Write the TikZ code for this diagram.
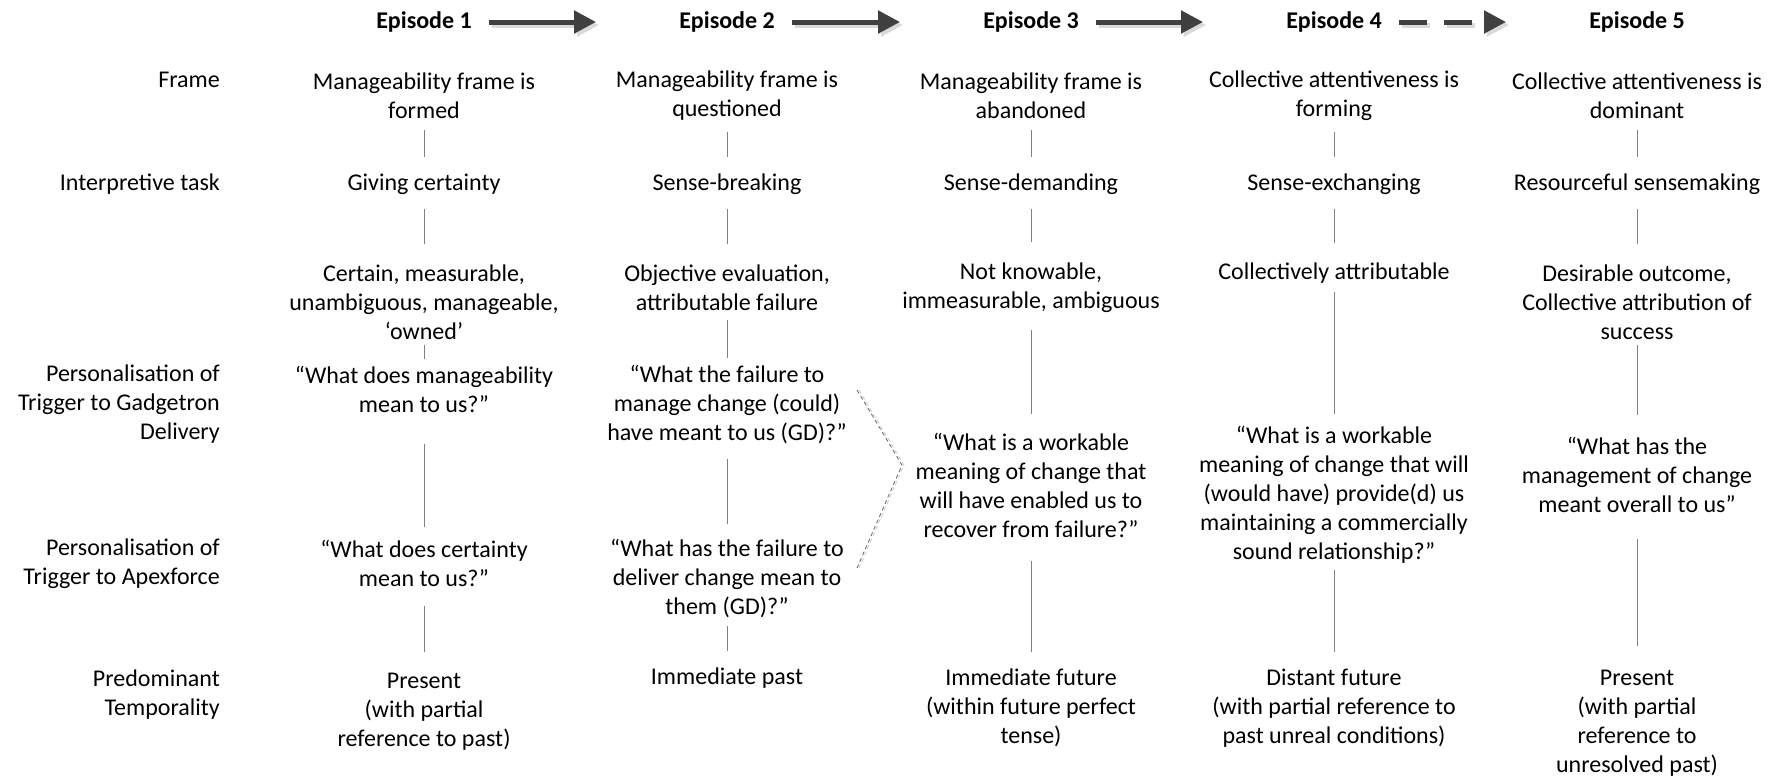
\documentclass[tikz,border=0pt]{standalone}
\usepackage{fontspec}
\setmainfont{Carlito}
\usetikzlibrary{arrows.meta, positioning}

\begin{document}
\begin{tikzpicture}[x=1pt, y=-1pt,
    cell/.style={align=center, inner sep=0pt, font=\fontsize{24}{29}\selectfont},
    rowlabel/.style={cell, align=right, anchor=east},
    episode/.style={inner sep=0pt, font=\fontsize{24}{29}\selectfont\bfseries},
    vline/.style={draw=black!50, line width=1pt},
    epiarrow/.style={draw=black!75, line width=5pt, -{Triangle[length=22pt, width=22pt]}, shorten <=17pt, shorten >=83pt},
    epishadow/.style={epiarrow, draw=black!15, transform canvas={shift={(3pt,-3pt)}}},
    bracket/.style={draw=black!60, line width=0.8pt, dash pattern=on 4pt off 3pt}
]
\useasboundingbox (0,0) rectangle (1782,780);

% Episode headers
\node[episode] (h1) at (424, 22) {Episode 1};
\node[episode] (h2) at (727, 22) {Episode 2};
\node[episode] (h3) at (1031, 22) {Episode 3};
\node[episode] (h4) at (1334, 22) {Episode 4};
\node[episode] (h5) at (1637, 22) {Episode 5};

% Row labels
\node[rowlabel] (lframe) at (220, 80) {Frame};
\node[rowlabel] (ltask) at (220, 184.5) {Interpretive task};
\node[rowlabel] (lgd) at (220, 404) {Personalisation of\\Trigger to Gadgetron\\Delivery};
\node[rowlabel] (lapex) at (220, 563.5) {Personalisation of\\Trigger to Apexforce};
\node[rowlabel] (ltemp) at (220, 694.5) {Predominant\\Temporality};

% Episode 1
\node[cell] (f1) at (424, 96) {Manageability frame is\\formed};
\node[cell] (i1) at (424, 184.5) {Giving certainty};
\node[cell] (a1) at (424, 302) {Certain, measurable,\\unambiguous, manageable,\\‘owned’};
\node[cell] (g1) at (424, 389) {“What does manageability\\mean to us?”};
\node[cell] (p1) at (424, 563.5) {“What does certainty\\mean to us?”};
\node[cell] (t1) at (424, 711.5) {Present\\(with partial\\reference to past)};

% Episode 2
\node[cell] (f2) at (727, 96) {Manageability frame is\\questioned};
\node[cell] (i2) at (727, 184.5) {Sense-breaking};
\node[cell] (a2) at (727, 287.5) {Objective evaluation,\\attributable failure};
\node[cell] (g2) at (727, 404) {“What the failure to\\manage change (could)\\have meant to us (GD)?”};
\node[cell] (p2) at (727, 578.5) {“What has the failure to\\deliver change mean to\\them (GD)?”};
\node[cell] (t2) at (727, 678.5) {Immediate past};

% Episode 3
\node[cell] (f3) at (1031, 96) {Manageability frame is\\abandoned};
\node[cell] (i3) at (1031, 184.5) {Sense-demanding};
\node[cell] (a3) at (1031, 287.5) {Not knowable,\\immeasurable, ambiguous};
\node[cell] (q3) at (1031, 485) {“What is a workable\\meaning of change that\\will have enabled us to\\recover from failure?”};
\node[cell] (t3) at (1031, 708) {Immediate future\\(within future perfect\\tense)};

% Episode 4
\node[cell] (f4) at (1334, 96) {Collective attentiveness is\\forming};
\node[cell] (i4) at (1334, 184.5) {Sense-exchanging};
\node[cell] (a4) at (1334, 273.5) {Collectively attributable};
\node[cell] (q4) at (1334, 494.5) {“What is a workable\\meaning of change that will\\(would have) provide(d) us\\maintaining a commercially\\sound relationship?”};
\node[cell] (t4) at (1334, 708) {Distant future\\(with partial reference to\\past unreal conditions)};

% Episode 5
\node[cell] (f5) at (1637, 96) {Collective attentiveness is\\dominant};
\node[cell] (i5) at (1637, 184.5) {Resourceful sensemaking};
\node[cell] (a5) at (1637, 302) {Desirable outcome,\\Collective attribution of\\success};
\node[cell] (q5) at (1637, 474.5) {“What has the\\management of change\\meant overall to us”};
\node[cell] (t5) at (1637, 723) {Present\\(with partial\\reference to\\unresolved past)};

% Episode arrows
\foreach \a/\b in {h1/h2, h2/h3, h3/h4} {
  \draw[epishadow] (\a) -- (\b);
  \draw[epiarrow] (\a) -- (\b);
}
\draw[epishadow, dash pattern=on 28pt off 17pt] (h4) -- (h5);
\draw[epiarrow, dash pattern=on 28pt off 17pt] (h4) -- (h5);

% Vertical connectors
\foreach \a/\b/\s/\e in {f1/i1/11pt/17pt, i1/a1/14pt/20pt, a1/g1/5pt/7pt, g1/p1/32pt/13pt, p1/t1/19pt/21pt,
    f2/i2/11pt/17pt, i2/a2/14pt/20pt, a2/g2/9pt/6pt, g2/p2/15pt/15pt, p2/t2/8pt/17pt,
    f3/i3/11pt/17pt, i3/a3/14pt/20pt, a3/q3/17pt/19pt, q3/t3/24pt/17pt,
    f4/i4/11pt/17pt, i4/a4/14pt/20pt, a4/q4/8pt/12pt, q4/t4/7pt/17pt,
    f5/i5/11pt/17pt, i5/a5/14pt/20pt, a5/q5/5pt/22pt, q5/t5/27pt/24pt}
  \draw[vline, shorten <=\s, shorten >=\e] (\a) -- (\b);

% Dashed bracket into episode 3
\coordinate (brtop) at (857, 390);
\coordinate (brtip) at (902, 465);
\coordinate (brbot) at (857, 568);
\draw[bracket, draw=black!20, transform canvas={shift={(2pt,0pt)}}] (brtop) -- (brtip) -- (brbot);
\draw[bracket] (brtop) -- (brtip) -- (brbot);
\end{tikzpicture}
\end{document}
